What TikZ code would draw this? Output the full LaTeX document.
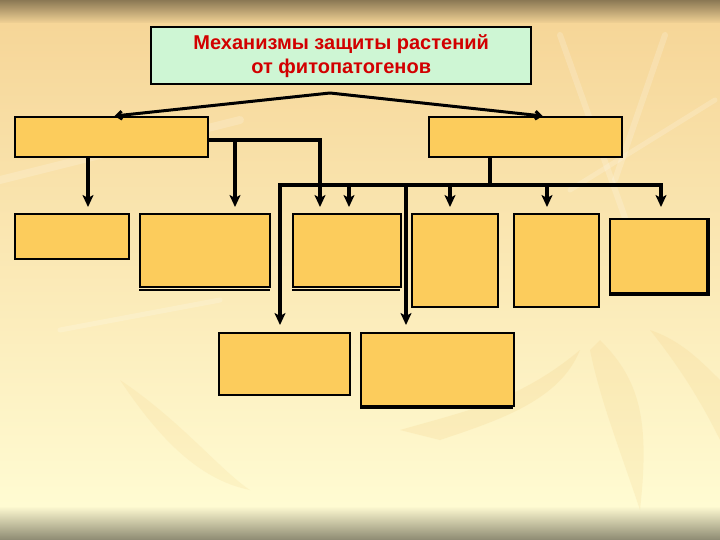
\documentclass[tikz,border=0pt]{standalone}
\usepackage{fontspec}
\setmainfont{Liberation Sans}
\usetikzlibrary{arrows.meta,calc}
\definecolor{boxfill}{RGB}{252,204,92}
\definecolor{mint}{RGB}{206,246,212}
\definecolor{titlered}{RGB}{210,0,0}
\definecolor{bgtop}{RGB}{139,120,84}
\definecolor{bgpeach}{RGB}{246,214,152}
\definecolor{bgcream}{RGB}{255,251,210}
\definecolor{bgbot}{RGB}{141,138,114}
\definecolor{leaf}{RGB}{240,200,120}
\tikzset{
  box/.style={draw=black, line width=2.2pt, fill=boxfill, inner sep=0pt, anchor=north west},
  titlebox/.style={draw=black, line width=2.4pt, fill=mint, inner sep=0pt, anchor=north west,
    align=center, font=\bfseries\fontsize{20}{24}\selectfont, text=titlered},
  conn/.style={draw=black, line width=3.6pt},
  arr/.style={conn, -{Stealth[length=12pt,width=11pt,inset=3pt]}},
  tarr/.style={draw=black, line width=3pt, -{Straight Barb[length=5pt,width=8pt]}},
  shadowline/.style={draw=black, line width=2.2pt},
  streak/.style={draw=white, opacity=0.18, line cap=round}
}
\begin{document}
\begin{tikzpicture}[x=1pt,y=-1pt]
\useasboundingbox (0,0) rectangle (720,540);
% background
\fill[top color=bgtop, bottom color=bgpeach] (0,0) rectangle (720,24);
\fill[top color=bgpeach, bottom color=bgcream] (0,24) rectangle (720,506);
\fill[top color=bgcream, bottom color=bgbot] (0,506) rectangle (720,540);
% faint background decorations
\draw[streak, line width=6pt] (560,35) -- (640,260);
\draw[streak, line width=6pt] (665,35) -- (615,180);
\draw[streak, line width=5pt] (570,190) -- (715,100);
\draw[streak, line width=8pt] (0,180) -- (240,120);
\draw[streak, line width=5pt] (60,330) -- (220,300);
\fill[leaf, opacity=0.18] (400,430) .. controls (470,410) and (520,400) .. (580,350) .. controls (560,400) and (500,420) .. (440,440) -- cycle;
\fill[leaf, opacity=0.16] (600,340) .. controls (640,380) and (650,420) .. (640,510) .. controls (620,450) and (600,400) .. (590,350) -- cycle;
\fill[leaf, opacity=0.16] (650,330) .. controls (690,380) and (710,420) .. (720,440) -- (720,380) .. controls (700,360) and (680,340) .. (650,330) -- cycle;
\fill[leaf, opacity=0.14] (120,380) .. controls (180,420) and (220,470) .. (250,490) .. controls (200,480) and (160,440) .. (120,380) -- cycle;
% title
\node[titlebox, minimum width=380pt, minimum height=57pt] (T) at (150,26)
  {Механизмы защиты растений\\от фитопатогенов};
% level 1
\node[box, minimum width=193pt, minimum height=40pt] (L1) at (14,116) {};
\node[box, minimum width=193pt, minimum height=40pt] (R1) at (428,116) {};
% level 2
\node[box, minimum width=114pt, minimum height=45pt] (B1) at (14,213) {};
\draw[shadowline] (139,290) -- (270,290);
\node[box, minimum width=130pt, minimum height=73pt] (B2) at (139,213) {};
\draw[shadowline] (292,290) -- (400,290);
\node[box, minimum width=108pt, minimum height=73pt] (B3) at (292,213) {};
\node[box, minimum width=86pt, minimum height=93pt] (B4) at (411,213) {};
\node[box, minimum width=85pt, minimum height=93pt] (B5) at (513,213) {};
\draw[shadowline] (609,295) -- (709,295) -- (709,218);
\node[box, minimum width=97pt, minimum height=74pt] (B6) at (609,218) {};
% level 3
\node[box, minimum width=131pt, minimum height=62pt] (C1) at (218,332) {};
\draw[shadowline] (360,408) -- (513,408);
\node[box, minimum width=153pt, minimum height=73pt] (C2) at (360,332) {};
% connectors from title
\coordinate (apex) at (330,93);
\draw[tarr] (apex) -- ([xshift=3pt]L1.north);
\draw[tarr] (apex) -- ([xshift=17pt]R1.north);
% connectors from L1
\coordinate (a1) at (88,207);
\coordinate (a2) at (235,207);
\coordinate (a3) at (320,207);
\coordinate (j) at (320,140);
\draw[arr] (a1 |- L1.south) -- (a1);
\draw[arr] (L1.east |- j) -- (j) -- (a3);
\draw[arr] (a2 |- j) -- (a2);
% connectors from R1
\coordinate (r) at (490,185);
\coordinate (h1) at (280,185);
\coordinate (h2) at (661,185);
\coordinate (b1) at (280,325);
\coordinate (b2) at (406,325);
\coordinate (a4) at (349,207);
\coordinate (a5) at (450,207);
\coordinate (a6) at (547,207);
\coordinate (a7) at (661,207);
\draw[conn] (r |- R1.south) -- (r);
\draw[arr] (h2) -- (h1) -- (b1);
\draw[arr] (h1) -- (h2) -- (a7);
\draw[arr] (a4 |- h1) -- (a4);
\draw[arr] (a5 |- h1) -- (a5);
\draw[arr] (a6 |- h1) -- (a6);
\draw[arr] (b2 |- h1) -- (b2);
\end{tikzpicture}
\end{document}
